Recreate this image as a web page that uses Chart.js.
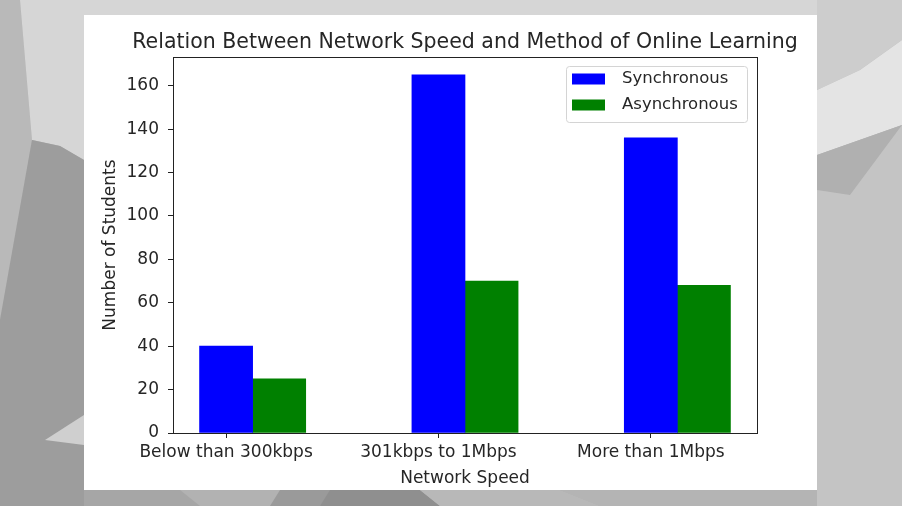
<!DOCTYPE html>
<html>
<head>
<meta charset="utf-8">
<title>Network Speed vs Online Learning</title>
<script src="https://cdn.jsdelivr.net/npm/chart.js@4.4.0/dist/chart.umd.min.js"></script>
<style>
    html, body { margin: 0; padding: 0; }
    body { width: 902px; height: 506px; overflow: hidden; position: relative; background: #b4b4b4; }
    #bg { position: absolute; left: 0; top: 0; }
    #panel { position: absolute; left: 84px; top: 15px; width: 733px; height: 475px; background: #fff; }
</style>
</head>
<body>
<!-- arka plan: gri poligon deseni (sadece dekor) -->
<svg id="bg" width="902" height="506">
    <rect x="0" y="0" width="902" height="506" fill="#b2b2b2"/>
    <polygon points="0,0 20,0 32,140 0,320" fill="#b9b9b9"/>
    <polygon points="20,0 902,0 902,15 84,15 84,160 60,146 32,140" fill="#d6d6d6"/>
    <polygon points="32,140 60,146 84,160 84,506 0,506 0,320" fill="#9d9d9d"/>
    <polygon points="45,440 84,415 84,445" fill="#cfcfcf"/>
    <polygon points="817,0 902,0 902,40 860,70 817,90" fill="#cdcdcd"/>
    <polygon points="817,90 860,70 902,40 902,125 817,155" fill="#e4e4e4"/>
    <polygon points="817,155 902,125 850,195 817,190" fill="#b0b0b0"/>
    <polygon points="817,190 850,195 902,125 902,506 817,506" fill="#c4c4c4"/>
    <polygon points="84,490 180,490 200,506 84,506" fill="#a6a6a6"/>
    <polygon points="280,490 340,490 320,506 270,506" fill="#9a9a9a"/>
    <polygon points="330,490 420,490 440,506 320,506" fill="#8f8f8f"/>
    <polygon points="420,490 560,490 600,506 440,506" fill="#b8b8b8"/>
    <polygon points="560,490 817,490 817,506 600,506" fill="#b4b4b4"/>
</svg>
<div id="panel"><canvas id="speedChart"></canvas></div>

<script>
// Veri
const speedLabels = ['Below than 300kbps', '301kbps to 1Mbps', 'More than 1Mbps'];
const syncValues = [40, 165, 136];
const asyncValues = [25, 70, 68];
const yTickValues = [0, 20, 40, 60, 80, 100, 120, 140, 160];
const seriesNames = ['Synchronous', 'Asynchronous'];
const seriesColors = ['#0000ff', '#008000'];
const chartTitle = 'Relation Between Network Speed and Method of Online Learning';

// matplotlib gibi: ikinci seri çeyrek birim sağa kaydırılıyor
const barWidth = 0.25;

const textColor = '#262626';
const fontFamily = "'DejaVu Sans', sans-serif";

// Başlık, çerçeve ve lejant
const framePlugin = {
    id: 'frame',
    afterDraw(chart) {
        const { ctx, chartArea: a } = chart;
        ctx.save();

        // eksen çerçevesi
        ctx.strokeStyle = '#222';
        ctx.lineWidth = 1;
        ctx.strokeRect(Math.round(a.left) + 0.5, Math.round(a.top) + 0.5,
            Math.round(a.right - a.left), Math.round(a.bottom - a.top));

        // başlık
        ctx.fillStyle = textColor;
        ctx.font = '20.5px ' + fontFamily;
        ctx.textAlign = 'center';
        ctx.textBaseline = 'middle';
        ctx.fillText(chartTitle, (a.left + a.right) / 2, 28);

        // lejant kutusu
        const bw = 181, bh = 56;
        const bx = a.right - 10 - bw;
        const by = a.top + 9;
        ctx.beginPath();
        ctx.roundRect(bx + 0.5, by + 0.5, bw, bh, 3);
        ctx.fillStyle = 'rgba(255,255,255,0.8)';
        ctx.fill();
        ctx.strokeStyle = '#d4d4d4';
        ctx.stroke();

        ctx.font = '16.5px ' + fontFamily;
        ctx.textAlign = 'left';
        chart.data.datasets.forEach((ds, i) => {
            const cy = by + 13 + i * 26;
            ctx.fillStyle = ds.backgroundColor;
            ctx.fillRect(bx + 6, cy - 5.5, 33, 11);
            ctx.fillStyle = textColor;
            ctx.fillText(ds.label, bx + 56, cy);
        });

        ctx.restore();
    }
};

const ctx = document.getElementById('speedChart');

new Chart(ctx, {
    type: 'bar',
    data: {
        datasets: [
            {
                label: seriesNames[0],
                data: syncValues.map((v, i) => ({ x: i, y: v })),
                backgroundColor: seriesColors[0],
                borderWidth: 0
            },
            {
                label: seriesNames[1],
                data: asyncValues.map((v, i) => ({ x: i + barWidth, y: v })),
                backgroundColor: seriesColors[1],
                borderWidth: 0
            }
        ]
    },
    options: {
        responsive: true,
        maintainAspectRatio: false,
        animation: false,
        grouped: false,
        barPercentage: 1.0,
        categoryPercentage: 1.0,
        layout: {
            padding: { top: 42, right: 60, left: 0, bottom: 0 }
        },
        plugins: {
            legend: { display: false },
            title: { display: false },
            tooltip: { enabled: false }
        },
        scales: {
            x: {
                type: 'linear',
                min: -0.25,
                max: 2.5,
                offset: false,
                afterBuildTicks: function(scale) {
                    scale.ticks = speedLabels.map((_, i) => ({ value: i }));
                },
                afterFit: function(scale) {
                    scale.height = 57;
                },
                grid: {
                    offset: false,
                    drawOnChartArea: false,
                    drawTicks: true,
                    tickLength: 5,
                    color: '#222'
                },
                border: { display: false },
                ticks: {
                    autoSkip: false,
                    maxRotation: 0,
                    padding: 4,
                    color: textColor,
                    font: { family: fontFamily, size: 17 },
                    callback: function(value) {
                        return speedLabels[value] ?? '';
                    }
                },
                title: {
                    display: true,
                    text: 'Network Speed',
                    color: textColor,
                    font: { family: fontFamily, size: 17 },
                    padding: { top: 0, bottom: 1 }
                }
            },
            y: {
                min: 0,
                max: 173.25,
                afterBuildTicks: function(scale) {
                    scale.ticks = yTickValues.map(v => ({ value: v }));
                },
                afterFit: function(scale) {
                    scale.width = 89;
                },
                grid: {
                    drawOnChartArea: false,
                    drawTicks: true,
                    tickLength: 5,
                    color: '#222'
                },
                border: { display: false },
                ticks: {
                    padding: 9,
                    color: textColor,
                    font: { family: fontFamily, size: 17 }
                },
                title: {
                    display: true,
                    text: 'Number of Students',
                    color: textColor,
                    font: { family: fontFamily, size: 17 },
                    padding: { top: 16, bottom: 0 }
                }
            }
        }
    },
    plugins: [framePlugin]
});
</script>
</body>
</html>
